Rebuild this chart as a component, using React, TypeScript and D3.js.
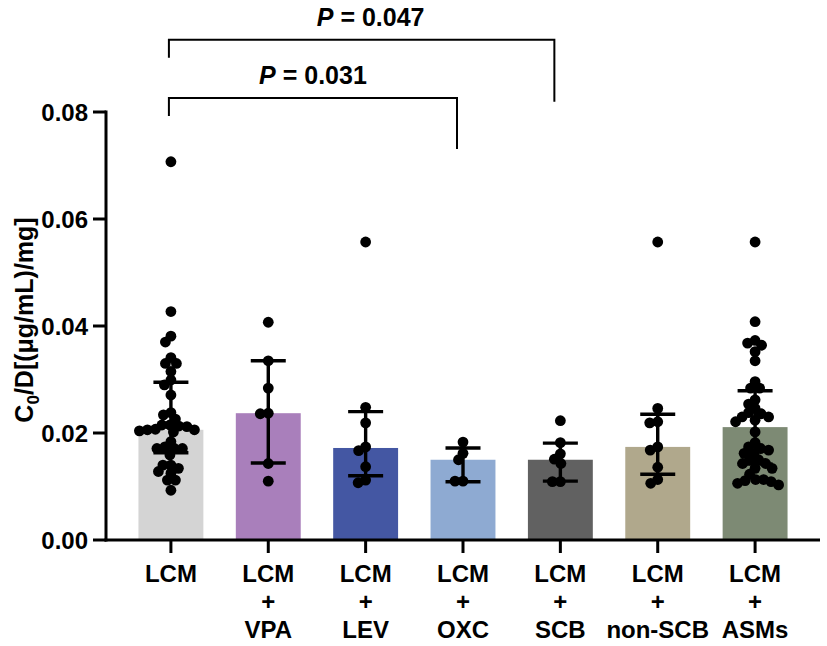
import { useMemo } from 'react';
import * as d3 from 'd3';

const categories = ['LCM', 'LCM+VPA', 'LCM+LEV', 'LCM+OXC', 'LCM+SCB', 'LCM+non-SCB', 'LCM+ASMs'];
const barColors = ['#d4d4d4', '#a97fbb', '#4457a3', '#8eaad2', '#616161', '#b0a88c', '#7d8a74'];

// bar height and error bar ends
const barValues = [0.0206, 0.0237, 0.0172, 0.015, 0.015, 0.0174, 0.0211];
const errUpper = [0.0295, 0.0335, 0.024, 0.0172, 0.0181, 0.0235, 0.0279];
const errLower = [0.0163, 0.0144, 0.012, 0.0109, 0.011, 0.0123, 0.0142];

const lcm = [0.0707, 0.0427, 0.0381, 0.037, 0.0341, 0.033, 0.033, 0.0315, 0.0299, 0.029, 0.0271, 0.0238, 0.0234,
  0.0226, 0.0215, 0.0213, 0.0215, 0.0212, 0.0207, 0.0206, 0.0206, 0.0204, 0.0202, 0.0184, 0.0174, 0.0171, 0.0171,
  0.0171, 0.0159, 0.014, 0.014, 0.0134, 0.0128, 0.0125, 0.0112, 0.0112, 0.0093];
const vpa = [0.0407, 0.0335, 0.0284, 0.0237, 0.0236, 0.0143, 0.011];
const lev = [0.0557, 0.0248, 0.0219, 0.0174, 0.0167, 0.0137, 0.0112, 0.0107];
const oxc = [0.0183, 0.0162, 0.015, 0.011, 0.011];
const scb = [0.0223, 0.0182, 0.0161, 0.0151, 0.0143, 0.0109, 0.0109];
const nonScb = [0.0557, 0.0246, 0.0221, 0.0219, 0.0174, 0.0168, 0.0136, 0.0113, 0.0106];
const asms = [0.0557, 0.0408, 0.0373, 0.0368, 0.0364, 0.0352, 0.0335, 0.0296, 0.0284, 0.0284, 0.0262, 0.0254,
  0.0246, 0.0238, 0.0236, 0.023, 0.023, 0.0224, 0.0221, 0.0202, 0.0182, 0.0174, 0.0171, 0.0168, 0.0162, 0.0162,
  0.015, 0.015, 0.0143, 0.0143, 0.0134, 0.0134, 0.0123, 0.0113, 0.0113, 0.0111, 0.0109, 0.0106, 0.0103];
const groupPoints = [lcm, vpa, lev, oxc, scb, nonScb, asms];

const yTicks = [0, 0.02, 0.04, 0.06, 0.08];

const comparisons = [
  { from: 'LCM', to: 'LCM+SCB', label: '0.047', level: 0.0935 },
  { from: 'LCM', to: 'LCM+OXC', label: '0.031', level: 0.0826 },
];

const W = 827;
const H = 646;
const FONT = '"Liberation Sans", Arial, sans-serif';
const R = 5.4;

// simple beeswarm: put each dot as close to the centre as it can go
function swarm(ys: number[], minDist: number) {
  const order = ys.map((y, i) => ({ y, i })).sort((a, b) => a.y - b.y);
  const placed: { x: number; y: number }[] = [];
  const xs = new Array(ys.length).fill(0);
  for (const p of order) {
    let off = 0;
    for (let k = 0; k < 400; k++) {
      const cand = (k % 2 === 0 ? 1 : -1) * Math.ceil(k / 2) * 0.5;
      const ok = placed.every((q) => (q.x - cand) ** 2 + (q.y - p.y) ** 2 >= minDist * minDist);
      if (ok) {
        off = cand;
        break;
      }
    }
    placed.push({ x: off, y: p.y });
    xs[p.i] = off;
  }
  return xs;
}

export default function App() {
  const x = d3.scaleBand().domain(categories).range([106, 820]).paddingInner(1 / 3).paddingOuter(1 / 3);
  const y = d3.scaleLinear().domain([0, 0.08]).range([540, 112]);
  const bw = x.bandwidth();
  const xc = (c: string) => (x(c) || 0) + bw / 2;

  const dots = useMemo(
    () =>
      groupPoints.map((vals) => {
        const ys = vals.map((v) => y(v));
        const offs = swarm(ys, R * 2 * 0.72);
        return ys.map((yy, i) => ({ x: offs[i], y: yy }));
      }),
    []
  );

  const axisY = y(0);

  return (
    <svg width={W} height={H} style={{ display: 'block', position: 'absolute', left: 0, top: 0 }}>
      <rect width={W} height={H} fill="#fff" />

      {/* bars */}
      {categories.map((c, i) => (
        <rect key={c} x={x(c)} y={y(barValues[i])} width={bw} height={axisY - y(barValues[i])} fill={barColors[i]} />
      ))}

      {/* points */}
      {categories.map((c, i) => (
        <g key={c}>
          {dots[i].map((d, j) => (
            <circle key={j} cx={xc(c) + d.x} cy={d.y} r={R} fill="#000" />
          ))}
        </g>
      ))}

      {/* error bars */}
      {categories.map((c, i) => {
        const cx = xc(c);
        return (
          <g key={c} stroke="#000" strokeWidth={3.4}>
            <line x1={cx} x2={cx} y1={y(errUpper[i])} y2={y(errLower[i])} />
            <line x1={cx - 17.5} x2={cx + 17.5} y1={y(errUpper[i])} y2={y(errUpper[i])} />
            <line x1={cx - 17.5} x2={cx + 17.5} y1={y(errLower[i])} y2={y(errLower[i])} />
          </g>
        );
      })}

      {/* y axis */}
      <line x1={106} x2={106} y1={y(0.08) - 1.5} y2={axisY + 1.5} stroke="#000" strokeWidth={3} />
      {yTicks.map((t) => (
        <g key={t}>
          <line x1={93} x2={106} y1={y(t)} y2={y(t)} stroke="#000" strokeWidth={3} />
          <text
            x={88}
            y={y(t)}
            dy="0.36em"
            textAnchor="end"
            fontFamily={FONT}
            fontWeight="bold"
            fontSize={24}
          >
            {d3.format('.2f')(t)}
          </text>
        </g>
      ))}

      {/* x axis */}
      <line x1={104.5} x2={820} y1={axisY} y2={axisY} stroke="#000" strokeWidth={3} />
      {categories.map((c) => (
        <g key={c}>
          <line x1={xc(c)} x2={xc(c)} y1={axisY} y2={axisY + 13} stroke="#000" strokeWidth={3} />
          <text textAnchor="middle" fontFamily={FONT} fontWeight="bold" fontSize={24}>
            {c
              .split('+')
              .flatMap((s, k, arr) => (k < arr.length - 1 ? [s, '+'] : [s]))
              .map((line, k) => (
                <tspan key={k} x={xc(c)} y={582 + k * 28}>
                  {line}
                </tspan>
              ))}
          </text>
        </g>
      ))}

      {/* y label */}
      <text
        transform={`translate(33,320) rotate(-90)`}
        textAnchor="middle"
        fontFamily={FONT}
        fontWeight="bold"
        fontSize={25}
      >
        C<tspan fontSize={17} dy={6}>0</tspan>
        <tspan dy={-6}>/D[(μg/mL)/mg]</tspan>
      </text>

      {/* significance brackets */}
      {comparisons.map((cmp, i) => {
        const x1 = xc(cmp.from) - 2;
        const x2 = xc(cmp.to) - 6;
        const yy = y(cmp.level);
        const leftEnd = yy + 18;
        const rightEnd = i === 0 ? yy + 62 : yy + 51;
        return (
          <g key={cmp.label}>
            <path
              d={`M${x1},${leftEnd}V${yy}H${x2}V${rightEnd}`}
              fill="none"
              stroke="#000"
              strokeWidth={2}
            />
            <text
              x={(x1 + x2) / 2 + (i === 0 ? 9 : 0)}
              y={yy - 14}
              textAnchor="middle"
              fontFamily={FONT}
              fontWeight="bold"
              fontSize={25}
            >
              <tspan fontStyle="italic">P</tspan> = {cmp.label}
            </text>
          </g>
        );
      })}
    </svg>
  );
}
